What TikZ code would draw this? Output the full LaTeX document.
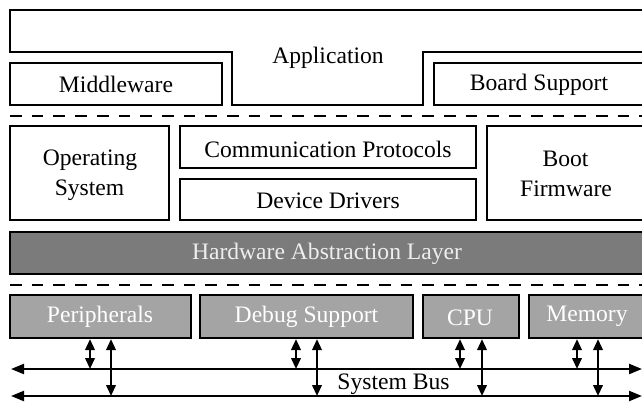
\documentclass[tikz,border=0pt]{standalone}
\usepackage{fontspec}
\setmainfont{Liberation Serif}
\usetikzlibrary{arrows.meta}
\begin{document}
\begin{tikzpicture}[x=1pt,y=-1pt,
  every node/.style={font=\fontsize{23.6}{30.5}\selectfont},
  lbl/.style={anchor=base, inner sep=0pt},
  box/.style={draw, line width=2.2pt, inner sep=0pt, fill=white},
  halbox/.style={box, fill=hal},
  hwbox/.style={box, fill=hw},
  sep/.style={line width=2.2pt, dash pattern=on 11.7pt off 10pt},
  busline/.style={line width=2.2pt, {Triangle[length=13pt,width=10pt]}-{Triangle[length=13pt,width=10pt]}},
  link/.style={line width=2.2pt, {Triangle[length=11pt,width=9.5pt]}-{Triangle[length=11pt,width=9.5pt]}}
]
\definecolor{hal}{HTML}{7B7B7B}
\definecolor{haltext}{HTML}{EEEEEE}
\definecolor{hw}{HTML}{A4A4A4}
\useasboundingbox (0,0) rectangle (642,402);
\fill[white] (0,0) rectangle (642,402);
% Application
\draw[line width=2.2pt] (10,10) -- (646,10) -- (646,52) -- (423,52) -- (423,105) -- (232,105) -- (232,52) -- (10,52) -- cycle;
\node[lbl] (app) at (328,63) {Application};
\node[box, minimum width=212pt, minimum height=42pt] (mw) at (116,84) {};
\node[lbl] (mwt) at (116,92) {Middleware};
\node[box, minimum width=212pt, minimum height=42pt] (bs) at (540,84) {};
\node[lbl] (bst) at (539,90) {Board Support};
% separator
\draw[sep] (10,116) -- (642,116);
% OS layer
\node[box, minimum width=159pt, minimum height=94pt] (os) at (89.5,173) {};
\node[lbl] (ost1) at (90,165) {Operating};
\node[lbl] (ost2) at (89.5,195) {System};
\node[box, minimum width=296pt, minimum height=42pt] (cp) at (328,147) {};
\node[lbl] (cpt) at (328,157) {Communication Protocols};
\node[box, minimum width=296pt, minimum height=41pt] (dd) at (328,199.5) {};
\node[lbl] (ddt) at (328,208) {Device Drivers};
\node[box, minimum width=160pt, minimum height=94pt] (bf) at (567,173) {};
\node[lbl] (bft1) at (565.5,166.5) {Boot};
\node[lbl] (bft2) at (566,196.5) {Firmware};
\node[halbox, minimum width=636pt, minimum height=42pt] (hal) at (328,253) {};
\node[lbl, text=haltext] (halt) at (327,259) {Hardware Abstraction Layer};
% separator
\draw[sep] (10,285) -- (642,285);
% hardware
\node[hwbox, minimum width=181pt, minimum height=43pt] (per) at (100.5,316.5) {};
\node[lbl, text=white] (pert) at (100,322.5) {Peripherals};
\node[hwbox, minimum width=213pt, minimum height=43pt] (dbg) at (306.5,316.5) {};
\node[lbl, text=white] (dbgt) at (306.5,322.5) {Debug Support};
\node[hwbox, minimum width=96pt, minimum height=43pt] (cpu) at (471,316.5) {};
\node[lbl, text=white] (cput) at (470,325) {CPU};
\node[hwbox, minimum width=118pt, minimum height=43pt] (mem) at (588,316.5) {};
\node[lbl, text=white] (memt) at (587,321.5) {Memory};
% buses
\coordinate (b1l) at (11,369);
\coordinate (b1r) at (642,369);
\coordinate (b2l) at (11,396);
\coordinate (b2r) at (642,396);
\draw[busline] (b1l) -- (b1r);
\draw[busline] (b2l) -- (b2r);
\node[lbl] (sb) at (393.5,389) {System Bus};
% links
\path (per.south) ++(-10.5,0) coordinate (pa) ++(21,0) coordinate (pb);
\path (dbg.south) ++(-10.5,0) coordinate (da) ++(21,0) coordinate (db);
\path (cpu.south) ++(-11,0) coordinate (ca) ++(22,0) coordinate (cb);
\path (mem.south) ++(-11,0) coordinate (ma) ++(21,0) coordinate (mb);
\foreach \a/\b in {pa/pb,da/db,ca/cb,ma/mb}{
  \draw[link] (\a) -- (\a |- b1l);
  \draw[link] (\b) -- (\b |- b2l);
}
\end{tikzpicture}
\end{document}
